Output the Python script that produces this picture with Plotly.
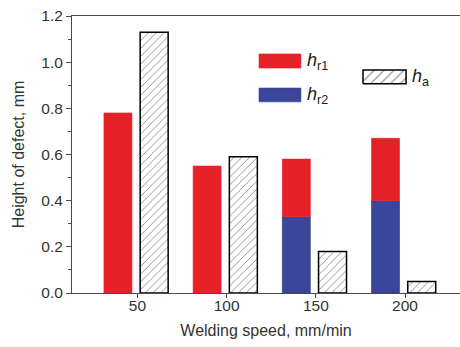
import plotly.graph_objects as go

speeds = [50, 100, 150, 200]
hr2 = [0.0, 0.0, 0.33, 0.40]
hr1 = [0.78, 0.55, 0.25, 0.27]   # segment heights stacked on hr2
ha = [1.13, 0.59, 0.18, 0.05]
yticks = [0.0, 0.2, 0.4, 0.6, 0.8, 1.0, 1.2]

RED = "#e52127"
BLUE = "#3a4699"
FONT = "Liberation Sans, Arial, sans-serif"
AX = "#4a4a4a"

fig = go.Figure()
fig.add_bar(x=speeds, y=hr2, offset=-18.8, width=15.7, name="hr2",
            marker=dict(color=BLUE, line=dict(color="#2f3a85", width=0.6)))
fig.add_bar(x=speeds, y=hr1, base=hr2, offset=-18.8, width=15.7, name="hr1",
            marker=dict(color=RED, line=dict(color=RED, width=0.6)))
fig.add_bar(x=speeds, y=ha, offset=1.5, width=15.7, name="ha",
            marker=dict(color="white", line=dict(color="black", width=1.5),
                        pattern=dict(shape="/", size=5.5, solidity=0.15,
                                     fgcolor="black", bgcolor="white")))

# legend swatches (plot-area fraction coordinates on an overlay axis)
def box(x0, x1, y0, y1, **kw):
    fig.add_scatter(x=[x0, x1, x1, x0, x0], y=[y0, y0, y1, y1, y0],
                    xaxis="x2", yaxis="y2", mode="lines", fill="toself",
                    hoverinfo="skip", showlegend=False, **kw)

box(0.482, 0.590, 0.812, 0.863, fillcolor=RED, line=dict(color=RED, width=0.6))
box(0.482, 0.590, 0.690, 0.740, fillcolor=BLUE, line=dict(color="#2f3a85", width=0.6))
box(0.750, 0.861, 0.755, 0.805, fillcolor="white", line=dict(color="black", width=1.5),
    fillpattern=dict(shape="/", size=7, solidity=0.15, fgcolor="black", bgcolor="white"))

for txt, x, y in [("r1", 0.600, 0.835), ("r2", 0.600, 0.712), ("a", 0.870, 0.777)]:
    fig.add_annotation(xref="x2", yref="y2", x=x, y=y, xanchor="left", yanchor="middle",
                       text=f"<i>h</i><sub>{txt}</sub>", showarrow=False,
                       font=dict(family=FONT, size=18, color="#222"))

fig.update_layout(
    width=460, height=347, barmode="overlay", showlegend=False,
    paper_bgcolor="white", plot_bgcolor="white",
    margin=dict(l=72, r=0, t=16, b=54, autoexpand=False),
    font=dict(family=FONT, size=15.5, color="#333"),
    xaxis=dict(range=[13.3, 230.8], tickvals=speeds, ticktext=[str(s) for s in speeds],
               showline=True, linecolor=AX, linewidth=1, mirror=True,
               ticks="outside", ticklen=4, tickcolor=AX, showgrid=False, zeroline=False,
               automargin=False, ticklabelstandoff=-6,
               title=dict(text="Welding speed, mm/min", standoff=12,
                          font=dict(size=16, color="#333"))),
    yaxis=dict(range=[0, 1.2], tickvals=yticks, tickformat=".1f",
               showline=True, linecolor=AX, linewidth=1, mirror=False,
               ticks="outside", ticklen=5, tickcolor=AX, showgrid=False, zeroline=False,
               automargin=False,
               minor=dict(dtick=0.1, ticks="outside", ticklen=3, tickcolor=AX),
               title=dict(text="Height of defect, mm", standoff=12,
                          font=dict(size=16, color="#333"))),
    xaxis2=dict(range=[0, 1], overlaying="x", visible=False, fixedrange=True),
    yaxis2=dict(range=[0, 1], overlaying="y", visible=False, fixedrange=True),
)

fig.write_html("out.html", config={"displayModeBar": False},
               post_script="document.body.style.margin='0';document.body.style.overflow='hidden';")
